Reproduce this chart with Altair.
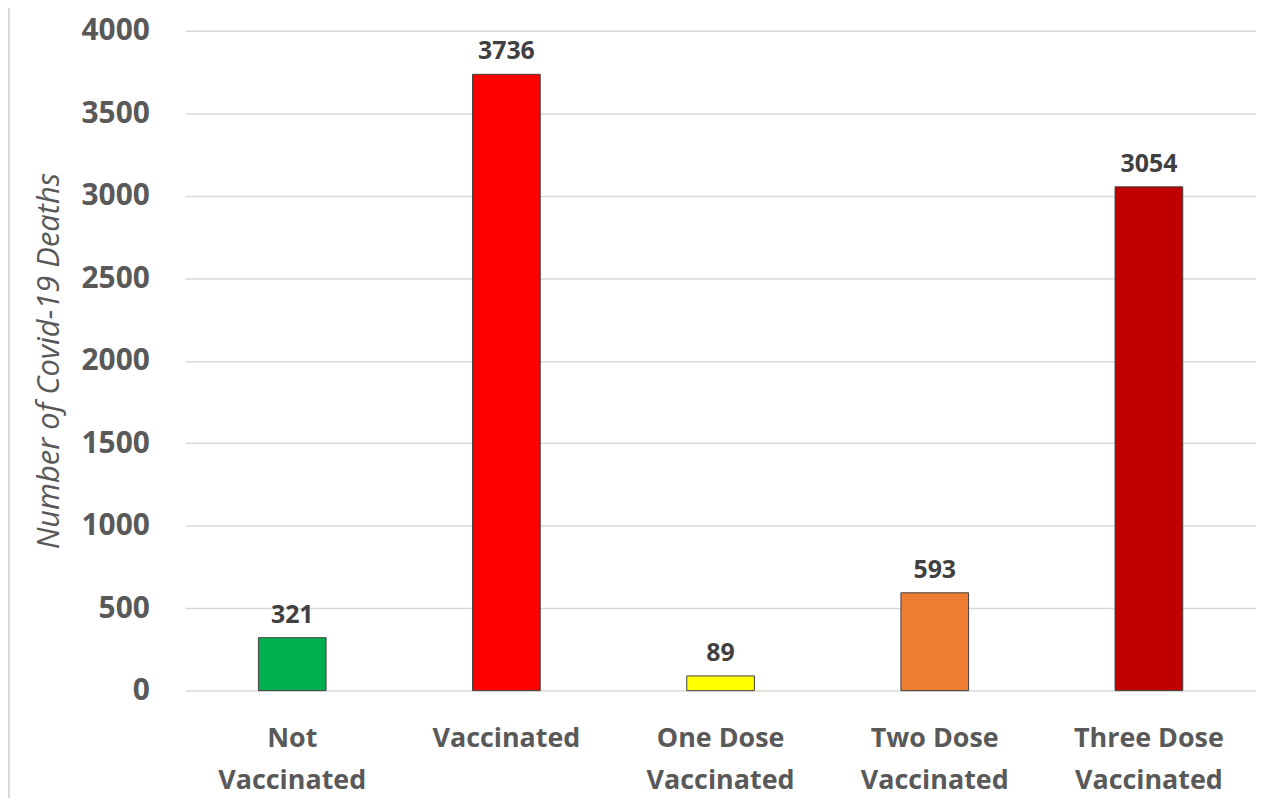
import altair as alt
import pandas as pd

categories = ["Not Vaccinated", "Vaccinated", "One Dose Vaccinated", "Two Dose Vaccinated", "Three Dose Vaccinated"]
label_lines = [["Not", "Vaccinated"], ["Vaccinated"], ["One Dose", "Vaccinated"], ["Two Dose", "Vaccinated"], ["Three Dose", "Vaccinated"]]
deaths = [321, 3736, 89, 593, 3054]
colors = ["#00B050", "#FF0000", "#FFFF00", "#ED7D31", "#C00000"]
y_ticks = [0, 500, 1000, 1500, 2000, 2500, 3000, 3500, 4000]

df = pd.DataFrame({"cat": categories, "deaths": deaths, "color": colors})

label_expr = "{" + ",".join(
    '"%s": [%s]' % (c, ",".join('"%s"' % s for s in l)) for c, l in zip(categories, label_lines)
) + "}[datum.value]"

x = alt.X("cat:N", sort=categories, title=None,
          scale=alt.Scale(paddingInner=0, paddingOuter=0),
          axis=alt.Axis(labelExpr=label_expr, labelAngle=0, labelFont="Open Sans",
                        labelFontWeight="bold", labelFontSize=27, labelColor="#595959",
                        labelLineHeight=42, labelPadding=35, ticks=False, domain=False,
                        labelBaseline="top"))
y = alt.Y("deaths:Q", title="Number of Covid-19 Deaths",
          scale=alt.Scale(domain=[0, 4000], nice=False),
          axis=alt.Axis(values=y_ticks, format="d", labelFont="Open Sans", labelFontWeight="bold",
                        labelFontSize=30, labelColor="#595959", labelPadding=36,
                        ticks=False, domain=False, gridColor="#D9D9D9", gridWidth=1.5,
                        titleFont="Open Sans", titleFontStyle="italic", titleFontWeight="normal",
                        titleFontSize=31, titleColor="#595959", titlePadding=16))

bars = alt.Chart(df).mark_bar(size=68, stroke="#404040", strokeWidth=1).encode(
    x=x, y=y, color=alt.Color("color:N", scale=None)
)
text = alt.Chart(df).mark_text(dy=-23, font="Open Sans", fontWeight="bold", fontSize=25,
                               color="#404040").encode(
    x=alt.X("cat:N", sort=categories), y="deaths:Q", text="deaths:Q"
)
frame = alt.Chart(df).mark_rule(color="#D9D9D9", strokeWidth=2, clip=False).encode(
    x=alt.value(-177), y=alt.value(-40), y2=alt.value(800)
)

chart = alt.layer(bars, text, frame).properties(
    width=1076, height=663,
    autosize=alt.AutoSizeParams(type="none"),
    padding={"left": 178, "top": 21, "right": 0, "bottom": 106},
).configure_view(stroke=None)

chart.save("out.html", embed_options={"renderer": "svg", "actions": False})
